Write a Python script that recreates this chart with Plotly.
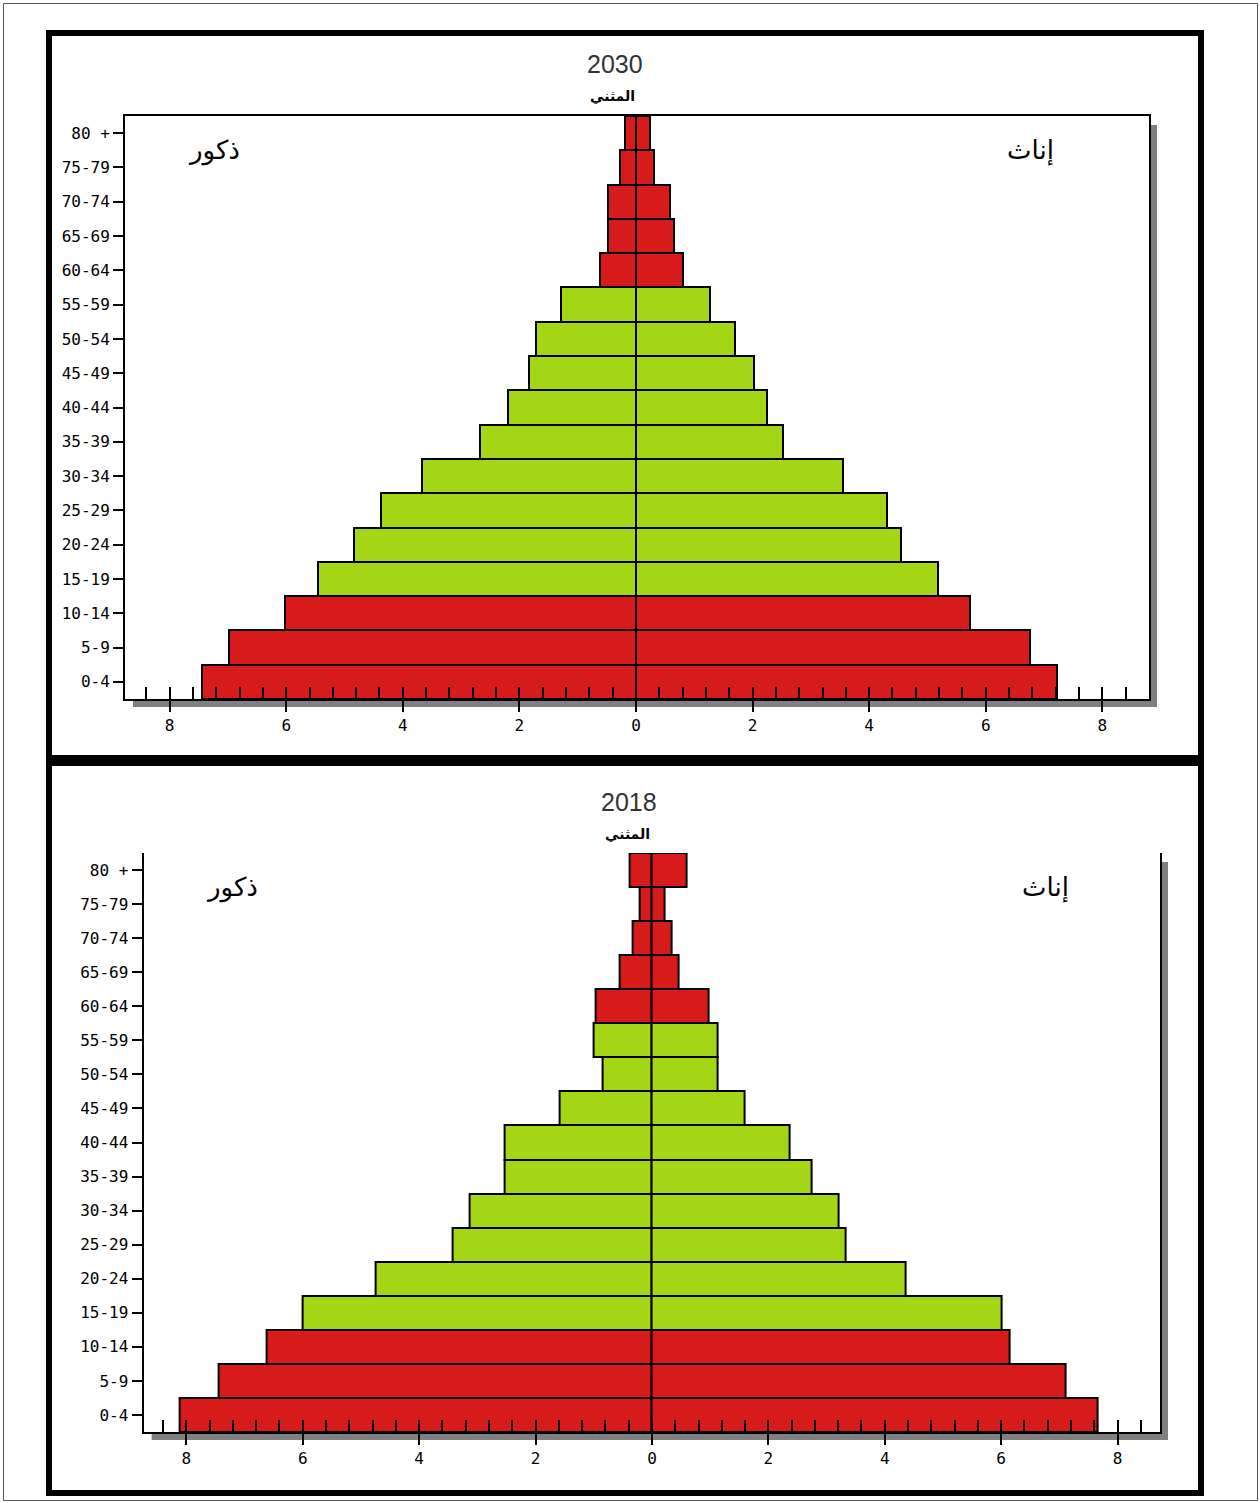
import plotly.graph_objects as go

W, H = 1260, 1503

age_groups = ["0-4", "5-9", "10-14", "15-19", "20-24", "25-29", "30-34", "35-39",
              "40-44", "45-49", "50-54", "55-59", "60-64", "65-69", "70-74", "75-79", "80 +"]

male_2030 = [7.44, 6.98, 6.02, 5.45, 4.84, 4.37, 3.67, 2.68, 2.20, 1.84, 1.72, 1.29, 0.62, 0.48, 0.48, 0.27, 0.19]
female_2030 = [7.22, 6.76, 5.73, 5.18, 4.55, 4.31, 3.55, 2.52, 2.25, 2.02, 1.70, 1.27, 0.81, 0.65, 0.58, 0.31, 0.24]
male_2018 = [8.11, 7.44, 6.62, 6.00, 4.74, 3.42, 3.13, 2.54, 2.54, 1.58, 0.84, 1.01, 0.96, 0.55, 0.34, 0.22, 0.38]
female_2018 = [7.65, 7.11, 6.15, 6.00, 4.36, 3.33, 3.21, 2.75, 2.37, 1.60, 1.12, 1.13, 0.98, 0.45, 0.33, 0.21, 0.60]

RED = "#d71a1a"
GREEN = "#a4d616"
working_age = {"15-19", "20-24", "25-29", "30-34", "35-39", "40-44", "45-49", "50-54", "55-59"}
bar_colors = [GREEN if a in working_age else RED for a in age_groups]

x_ticks = [-8, -6, -4, -2, 0, 2, 4, 6, 8]
x_labels = [str(abs(v)) for v in x_ticks]
minor_ticks = [round(-8.4 + 0.4 * i, 1) for i in range(43)]

TICK_FONT = dict(family="DejaVu Sans Mono", size=16, color="black")
ARABIC = "DejaVu Sans"


def px(x):
    return x / W


def py(y):
    return 1 - y / H


# panel geometry in pixels: plot box and x range
panels = [
    dict(year="2030", male=male_2030, female=female_2030,
         box=(125, 116, 1149, 699), xr=[-8.765, 8.80], top_line=True,
         title_xy=(615, 64), sub_xy=(612, 96), m_xy=(214, 151), f_xy=(1030, 151)),
    dict(year="2018", male=male_2018, female=female_2018,
         box=(143.6, 853, 1160, 1432), xr=[-8.735, 8.73], top_line=False,
         title_xy=(629, 802), sub_xy=(627, 834), m_xy=(232, 887), f_xy=(1045, 887)),
]

fig = go.Figure()
shapes = []
annotations = []

for i, p in enumerate(panels, start=1):
    xa = "x" if i == 1 else f"x{i}"
    ya = "y" if i == 1 else f"y{i}"
    fig.add_trace(go.Bar(
        y=age_groups, x=[-v for v in p["male"]], orientation="h",
        marker=dict(color=bar_colors, line=dict(color="black", width=2)),
        xaxis=xa, yaxis=ya, showlegend=False, name="ذكور",
    ))
    fig.add_trace(go.Bar(
        y=age_groups, x=p["female"], orientation="h",
        marker=dict(color=bar_colors, line=dict(color="black", width=2)),
        xaxis=xa, yaxis=ya, showlegend=False, name="إناث",
    ))

    x0, y0, x1, y1 = p["box"]
    sfx = "" if i == 1 else str(i)
    fig.update_layout(**{
        f"xaxis{sfx}": dict(
            domain=[px(x0), px(x1)], range=p["xr"], anchor=ya,
            tickmode="array", tickvals=x_ticks, ticktext=x_labels,
            ticks="outside", ticklen=11, tickwidth=1.5, tickcolor="black",
            minor=dict(tickmode="array", tickvals=minor_ticks, ticks="inside",
                       ticklen=12, tickwidth=1.5, tickcolor="black", showgrid=False),
            showline=True, linecolor="black", linewidth=2,
            mirror=p["top_line"], showgrid=False, zeroline=False,
            tickfont=TICK_FONT, fixedrange=True,
        ),
        f"yaxis{sfx}": dict(
            domain=[py(y1), py(y0)], anchor=xa, type="category",
            categoryorder="array", categoryarray=age_groups, range=[-0.5, 16.5],
            ticks="outside", ticklen=10, tickwidth=1.5, tickcolor="black",
            showline=True, linecolor="black", linewidth=2, mirror=True,
            showgrid=False, zeroline=False, tickfont=TICK_FONT,
        ),
    })

    # drop shadow on right and bottom of plot box
    shapes.append(dict(type="rect", xref="paper", yref="paper",
                       x0=px(x1 + 1), x1=px(x1 + 8), y0=py(y1 + 8), y1=py(y0 + 9),
                       fillcolor="#808080", line_width=0, layer="below"))
    shapes.append(dict(type="rect", xref="paper", yref="paper",
                       x0=px(x0 + 8), x1=px(x1 + 8), y0=py(y1 + 8), y1=py(y1 + 1),
                       fillcolor="#808080", line_width=0, layer="below"))

    annotations += [
        dict(text=p["year"], x=px(p["title_xy"][0]), y=py(p["title_xy"][1]),
             font=dict(family="Liberation Sans", size=25, color="#333333")),
        dict(text="<b>المثني</b>", x=px(p["sub_xy"][0]), y=py(p["sub_xy"][1]),
             font=dict(family=ARABIC, size=14, color="black")),
        dict(text="ذكور", x=px(p["m_xy"][0]), y=py(p["m_xy"][1]),
             font=dict(family=ARABIC, size=26, color="black")),
        dict(text="إناث", x=px(p["f_xy"][0]), y=py(p["f_xy"][1]),
             font=dict(family=ARABIC, size=26, color="black")),
    ]

for a in annotations:
    a.update(xref="paper", yref="paper", showarrow=False, xanchor="center", yanchor="middle")

# outer thin border and the two thick panel frames
shapes.append(dict(type="rect", xref="paper", yref="paper",
                   x0=px(3.5), x1=px(1257.5), y0=py(1500.5), y1=py(3.5),
                   line=dict(color="#555555", width=1)))
shapes.append(dict(type="rect", xref="paper", yref="paper",
                   x0=px(49), x1=px(1201), y0=py(758), y1=py(33),
                   line=dict(color="black", width=6)))
shapes.append(dict(type="rect", xref="paper", yref="paper",
                   x0=px(49), x1=px(1201), y0=py(1493), y1=py(763),
                   line=dict(color="black", width=6)))

fig.update_layout(
    width=W, height=H,
    margin=dict(l=0, r=0, t=0, b=0),
    paper_bgcolor="white", plot_bgcolor="white",
    barmode="overlay", bargap=0,
    shapes=shapes, annotations=annotations,
    showlegend=False,
)

# the page body has a default 8px margin; remove it so the figure sits at 0,0
fig.write_html("out.html", config={"displayModeBar": False},
               post_script="document.body.style.margin='0';")
